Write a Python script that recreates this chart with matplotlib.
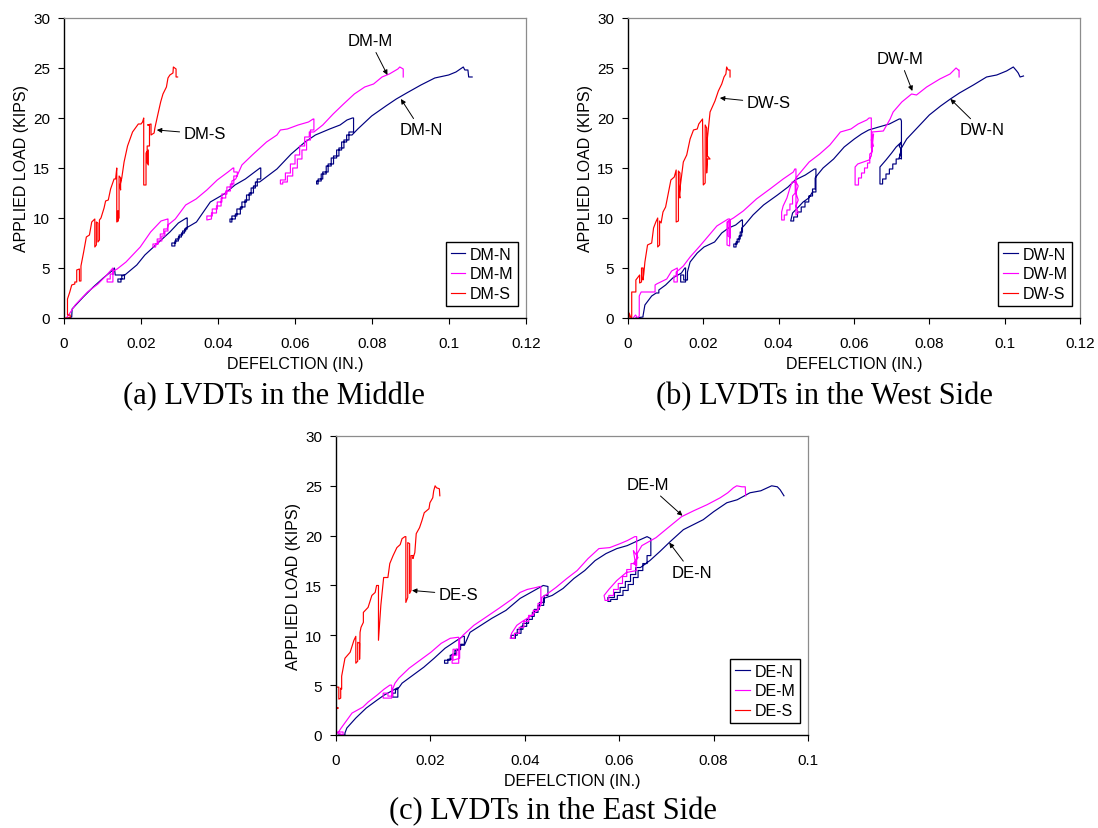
import matplotlib
matplotlib.use('Agg')
import matplotlib.pyplot as plt

# ---- data (deflection in., load kips) ----
DM_N = [(0.0011, 0.0), (0.0020, 0.1), (0.0021, 0.9), (0.0050, 2.1), (0.0076, 3.1), (0.0102, 4.0),
        (0.0124, 4.7), (0.0131, 5.0), (0.0133, 4.3), (0.0157, 4.3), (0.0157, 3.9), (0.0148, 3.9),
        (0.0148, 3.6), (0.0140, 3.6), (0.0140, 3.9), (0.0150, 3.9), (0.0150, 4.2), (0.0158, 4.3),
        (0.0189, 5.3), (0.0210, 6.3), (0.0241, 7.4), (0.0275, 8.6), (0.0297, 9.5), (0.0318, 10.0),
        (0.0320, 10.0), (0.0320, 8.9), (0.0313, 8.9), (0.0313, 8.5), (0.0305, 8.5), (0.0305, 8.1),
        (0.0297, 8.1), (0.0297, 7.7), (0.0288, 7.7), (0.0288, 7.2), (0.0280, 7.2), (0.0280, 7.5),
        (0.0290, 7.5), (0.0290, 7.9), (0.0299, 7.9), (0.0299, 8.3), (0.0308, 8.3), (0.0308, 8.7),
        (0.0316, 8.7), (0.0316, 9.0), (0.0322, 9.1), (0.0344, 9.6), (0.0380, 11.6), (0.0416, 12.4),
        (0.0444, 13.3), (0.0471, 13.9), (0.0509, 15.0), (0.0511, 15.0), (0.0511, 13.9), (0.0502, 13.9),
        (0.0502, 13.2), (0.0492, 13.2), (0.0492, 12.5), (0.0481, 12.5), (0.0481, 11.8), (0.0470, 11.8),
        (0.0470, 11.1), (0.0458, 11.1), (0.0458, 10.4), (0.0445, 10.4), (0.0445, 9.9), (0.0431, 9.9),
        (0.0431, 9.6), (0.0436, 9.6), (0.0436, 10.2), (0.0449, 10.2), (0.0449, 10.9), (0.0462, 10.9),
        (0.0462, 11.6), (0.0474, 11.6), (0.0474, 12.3), (0.0486, 12.3), (0.0486, 13.0), (0.0497, 13.0),
        (0.0497, 13.6), (0.0508, 13.6), (0.0515, 13.8), (0.0553, 14.9), (0.0590, 16.4), (0.0626, 17.6),
        (0.0653, 18.3), (0.0690, 18.9), (0.0717, 19.3), (0.0735, 19.8), (0.0749, 20.0), (0.0752, 20.0),
        (0.0752, 18.6), (0.0740, 18.6), (0.0740, 17.8), (0.0727, 17.8), (0.0727, 17.0), (0.0714, 17.0),
        (0.0714, 16.2), (0.0700, 16.2), (0.0700, 15.4), (0.0686, 15.4), (0.0686, 14.6), (0.0672, 14.6),
        (0.0672, 13.9), (0.0660, 13.9), (0.0660, 13.4), (0.0656, 13.4), (0.0656, 13.7), (0.0668, 13.7),
        (0.0668, 14.4), (0.0681, 14.4), (0.0681, 15.2), (0.0694, 15.2), (0.0694, 16.0), (0.0708, 16.0),
        (0.0708, 16.8), (0.0721, 16.8), (0.0721, 17.6), (0.0734, 17.6), (0.0734, 18.3), (0.0748, 18.3),
        (0.0763, 18.9), (0.0799, 20.2), (0.0836, 21.2), (0.0863, 21.9), (0.0890, 22.5), (0.0927, 23.3),
        (0.0963, 24.0), (0.0999, 24.3), (0.1018, 24.6), (0.1037, 25.1), (0.1041, 24.8), (0.1049, 24.8),
        (0.1051, 24.1), (0.1060, 24.1)]

DM_M = [(0.0006, 0.0), (0.0012, 0.3), (0.0029, 1.3), (0.0061, 2.6), (0.0088, 3.4), (0.0111, 4.3),
        (0.0125, 4.9), (0.0127, 5.0), (0.0127, 3.6), (0.0112, 3.6), (0.0112, 3.9), (0.0120, 3.9),
        (0.0120, 4.4), (0.0128, 4.4), (0.0128, 4.7), (0.0138, 4.9), (0.0161, 5.6), (0.0198, 7.1),
        (0.0225, 8.6), (0.0252, 9.7), (0.0269, 9.9), (0.0270, 9.9), (0.0270, 8.7), (0.0262, 8.7),
        (0.0262, 8.2), (0.0254, 8.2), (0.0254, 7.7), (0.0245, 7.7), (0.0245, 7.4), (0.0238, 7.4),
        (0.0238, 7.1), (0.0231, 7.1), (0.0231, 7.4), (0.0242, 7.4), (0.0242, 7.9), (0.0250, 7.9),
        (0.0250, 8.4), (0.0259, 8.4), (0.0259, 8.9), (0.0268, 8.9), (0.0270, 9.3), (0.0289, 9.9),
        (0.0316, 11.3), (0.0343, 11.9), (0.0371, 12.8), (0.0398, 13.8), (0.0426, 14.6), (0.0439, 15.0),
        (0.0441, 15.0), (0.0441, 14.6), (0.0450, 14.6), (0.0450, 14.2), (0.0441, 14.2), (0.0441, 13.4),
        (0.0432, 13.4), (0.0432, 12.7), (0.0420, 12.7), (0.0420, 12.0), (0.0408, 12.0), (0.0408, 11.2),
        (0.0396, 11.2), (0.0396, 10.5), (0.0383, 10.5), (0.0383, 9.9), (0.0371, 9.8), (0.0371, 10.2),
        (0.0385, 10.2), (0.0385, 10.9), (0.0398, 10.9), (0.0398, 11.6), (0.0410, 11.6), (0.0410, 12.4),
        (0.0423, 12.4), (0.0423, 13.1), (0.0436, 13.1), (0.0436, 13.7), (0.0446, 13.9), (0.0462, 15.3),
        (0.0489, 16.3), (0.0526, 17.6), (0.0553, 18.3), (0.0562, 18.8), (0.0580, 18.9), (0.0608, 19.3),
        (0.0635, 19.6), (0.0647, 19.9), (0.0649, 19.9), (0.0649, 18.8), (0.0640, 18.8), (0.0640, 17.8),
        (0.0630, 17.8), (0.0630, 16.8), (0.0618, 16.8), (0.0618, 15.9), (0.0606, 15.9), (0.0606, 15.0),
        (0.0594, 15.0), (0.0594, 14.2), (0.0580, 14.2), (0.0580, 13.6), (0.0568, 13.6), (0.0568, 13.4),
        (0.0562, 13.4), (0.0562, 13.8), (0.0575, 13.8), (0.0575, 14.5), (0.0588, 14.5), (0.0588, 15.4),
        (0.0600, 15.4), (0.0600, 16.3), (0.0612, 16.3), (0.0612, 17.2), (0.0625, 17.2), (0.0625, 18.1),
        (0.0637, 18.1), (0.0637, 18.6), (0.0649, 18.6), (0.0672, 19.3), (0.0699, 20.4), (0.0726, 21.4),
        (0.0754, 22.4), (0.0781, 23.1), (0.0804, 23.4), (0.0826, 24.1), (0.0845, 24.4), (0.0867, 24.9),
        (0.0872, 25.1), (0.0881, 24.9), (0.0881, 24.1)]

DM_S = [(0.0000, 0.0), (0.0016, 0.0), (0.0016, 0.3), (0.0009, 0.3), (0.0009, 1.9), (0.0015, 2.6),
        (0.0020, 3.3), (0.0028, 3.4), (0.0028, 3.6), (0.0033, 3.6), (0.0033, 4.8), (0.0040, 4.9),
        (0.0040, 3.7), (0.0044, 3.7), (0.0044, 5.2), (0.0051, 6.6), (0.0058, 8.1), (0.0066, 8.3),
        (0.0072, 9.6), (0.0080, 9.9), (0.0080, 7.1), (0.0084, 7.3), (0.0084, 9.6), (0.0088, 9.5),
        (0.0088, 7.6), (0.0092, 7.8), (0.0092, 9.8), (0.0096, 10.0), (0.0104, 11.0), (0.0108, 11.7),
        (0.0115, 11.8), (0.0121, 12.9), (0.0130, 13.9), (0.0134, 13.9), (0.0137, 15.0), (0.0137, 9.6),
        (0.0141, 9.7), (0.0141, 10.7), (0.0139, 10.7), (0.0139, 9.8), (0.0143, 10.0), (0.0143, 14.2),
        (0.0147, 14.0), (0.0147, 12.8), (0.0145, 13.2), (0.0150, 14.0), (0.0156, 15.6), (0.0165, 17.2),
        (0.0178, 18.6), (0.0193, 19.4), (0.0200, 19.4), (0.0204, 19.6), (0.0207, 20.0), (0.0207, 13.3),
        (0.0213, 13.3), (0.0213, 16.5), (0.0219, 16.8), (0.0219, 15.3), (0.0216, 15.5), (0.0216, 17.2),
        (0.0222, 17.2), (0.0222, 19.3), (0.0217, 19.3), (0.0226, 19.4), (0.0226, 18.3), (0.0234, 18.5),
        (0.0236, 19.0), (0.0244, 20.4), (0.0251, 21.6), (0.0257, 22.4), (0.0266, 23.1), (0.0270, 24.0),
        (0.0275, 24.3), (0.0283, 24.5), (0.0284, 25.1), (0.0291, 24.9), (0.0291, 24.1), (0.0295, 24.1)]

DW_N = [(0.0021, 0.0), (0.0040, 0.1), (0.0040, 0.2), (0.0045, 1.3), (0.0063, 2.2), (0.0075, 2.5),
        (0.0082, 2.5), (0.0082, 2.8), (0.0100, 3.3), (0.0119, 4.0), (0.0142, 4.5), (0.0151, 5.0),
        (0.0153, 5.0), (0.0153, 3.6), (0.0140, 3.6), (0.0140, 4.3), (0.0148, 4.3), (0.0148, 3.8),
        (0.0158, 3.8), (0.0158, 4.6), (0.0165, 5.6), (0.0184, 6.5), (0.0202, 7.1), (0.0230, 7.6),
        (0.0249, 8.5), (0.0267, 9.0), (0.0286, 9.3), (0.0302, 9.8), (0.0304, 9.8), (0.0304, 8.6),
        (0.0298, 8.6), (0.0298, 7.9), (0.0290, 7.9), (0.0290, 7.4), (0.0281, 7.4), (0.0281, 7.1),
        (0.0287, 7.1), (0.0287, 7.6), (0.0295, 7.6), (0.0295, 8.2), (0.0302, 8.2), (0.0302, 9.0),
        (0.0310, 9.3), (0.0332, 10.3), (0.0360, 11.3), (0.0397, 12.3), (0.0425, 13.1), (0.0444, 13.8),
        (0.0471, 14.3), (0.0495, 14.9), (0.0499, 14.9), (0.0499, 12.6), (0.0490, 12.6), (0.0480, 12.0),
        (0.0465, 11.6), (0.0450, 11.0), (0.0437, 10.5), (0.0432, 9.7), (0.0440, 9.7), (0.0440, 10.1),
        (0.0450, 10.1), (0.0450, 10.6), (0.0460, 10.6), (0.0460, 11.1), (0.0470, 11.1), (0.0470, 11.6),
        (0.0480, 11.6), (0.0480, 12.2), (0.0490, 12.2), (0.0490, 12.9), (0.0497, 12.9), (0.0497, 14.0),
        (0.0505, 14.4), (0.0518, 15.0), (0.0546, 15.9), (0.0574, 17.1), (0.0601, 17.9), (0.0620, 18.4),
        (0.0639, 18.8), (0.0666, 19.1), (0.0694, 19.4), (0.0720, 19.9), (0.0724, 19.9), (0.0726, 19.7),
        (0.0726, 15.9), (0.0720, 16.0), (0.0726, 16.8), (0.0720, 17.2), (0.0726, 17.6), (0.0712, 17.1),
        (0.0700, 16.5), (0.0685, 15.8), (0.0669, 15.1), (0.0669, 13.4), (0.0676, 13.4), (0.0676, 13.9),
        (0.0685, 13.9), (0.0685, 14.4), (0.0694, 14.4), (0.0694, 14.9), (0.0703, 14.9), (0.0703, 15.4),
        (0.0712, 15.4), (0.0712, 15.9), (0.0720, 15.9), (0.0726, 17.0), (0.0740, 17.9), (0.0770, 19.1),
        (0.0800, 20.3), (0.0830, 21.2), (0.0856, 21.9), (0.0880, 22.5), (0.0917, 23.3), (0.0952, 24.1),
        (0.0979, 24.3), (0.1005, 24.7), (0.1023, 25.1), (0.1032, 24.7), (0.1036, 24.5), (0.1041, 24.1),
        (0.1050, 24.2)]

DW_M = [(0.0014, 0.0), (0.0020, 0.3), (0.0026, 0.0), (0.0030, 0.2), (0.0030, 2.2), (0.0035, 2.6),
        (0.0072, 2.6), (0.0072, 3.3), (0.0076, 3.4), (0.0103, 3.9), (0.0116, 4.7), (0.0131, 5.0),
        (0.0131, 3.6), (0.0122, 3.6), (0.0122, 4.2), (0.0128, 4.2), (0.0128, 4.6), (0.0135, 4.8),
        (0.0147, 5.2), (0.0165, 6.1), (0.0191, 7.2), (0.0218, 8.4), (0.0236, 9.2), (0.0253, 9.6),
        (0.0266, 9.9), (0.0270, 9.9), (0.0270, 7.2), (0.0263, 7.3), (0.0263, 9.6), (0.0272, 9.7),
        (0.0272, 8.0), (0.0266, 8.2), (0.0266, 9.7), (0.0280, 10.0), (0.0306, 10.7), (0.0341, 11.9),
        (0.0377, 12.9), (0.0412, 13.9), (0.0439, 14.6), (0.0443, 14.9), (0.0446, 14.9), (0.0446, 10.3),
        (0.0452, 10.5), (0.0446, 11.2), (0.0452, 11.8), (0.0446, 12.5), (0.0452, 13.2), (0.0446, 13.6),
        (0.0436, 13.6), (0.0430, 13.0), (0.0422, 12.0), (0.0412, 11.2), (0.0408, 10.6), (0.0408, 9.8),
        (0.0415, 9.8), (0.0415, 10.3), (0.0422, 10.3), (0.0422, 10.8), (0.0430, 10.8), (0.0430, 11.4),
        (0.0437, 11.4), (0.0437, 12.2), (0.0444, 12.5), (0.0444, 13.8), (0.0450, 14.2), (0.0481, 15.6),
        (0.0509, 16.4), (0.0536, 17.3), (0.0564, 18.6), (0.0592, 18.9), (0.0611, 19.4), (0.0634, 19.8),
        (0.0640, 20.0), (0.0646, 20.0), (0.0646, 17.0), (0.0652, 17.2), (0.0646, 17.8), (0.0652, 18.4),
        (0.0646, 16.2), (0.0640, 15.8), (0.0625, 15.6), (0.0610, 15.4), (0.0603, 15.1), (0.0603, 13.3),
        (0.0612, 13.3), (0.0612, 14.0), (0.0620, 14.0), (0.0620, 14.5), (0.0628, 14.5), (0.0628, 15.0),
        (0.0636, 15.0), (0.0636, 15.5), (0.0642, 15.5), (0.0642, 16.4), (0.0648, 16.6), (0.0648, 18.6),
        (0.0678, 18.7), (0.0696, 19.9), (0.0704, 20.6), (0.0727, 21.6), (0.0753, 22.4), (0.0766, 22.3),
        (0.0793, 23.1), (0.0828, 23.9), (0.0855, 24.4), (0.0871, 25.0), (0.0877, 24.8), (0.0879, 24.8),
        (0.0879, 24.1)]

DW_S = [(0.0003, 0.0), (0.0003, 0.5), (0.0008, 0.0), (0.0010, 0.0), (0.0010, 2.6), (0.0021, 2.6),
        (0.0021, 3.8), (0.0031, 4.3), (0.0031, 3.5), (0.0036, 3.6), (0.0036, 5.0), (0.0040, 5.0),
        (0.0040, 3.8), (0.0042, 4.4), (0.0045, 5.6), (0.0052, 7.3), (0.0063, 7.5), (0.0068, 9.0),
        (0.0074, 9.6), (0.0079, 10.0), (0.0079, 7.1), (0.0084, 7.3), (0.0084, 9.7), (0.0088, 9.5),
        (0.0093, 10.6), (0.0100, 11.1), (0.0114, 13.8), (0.0123, 14.1), (0.0128, 14.8), (0.0128, 9.6),
        (0.0134, 9.7), (0.0134, 14.7), (0.0138, 14.5), (0.0138, 12.0), (0.0136, 12.3), (0.0140, 13.5),
        (0.0147, 15.6), (0.0156, 16.3), (0.0165, 17.9), (0.0174, 18.8), (0.0184, 18.9), (0.0188, 19.4),
        (0.0198, 19.9), (0.0200, 13.3), (0.0205, 13.5), (0.0205, 19.3), (0.0209, 19.0), (0.0209, 14.5),
        (0.0211, 15.9), (0.0218, 15.9), (0.0211, 16.2), (0.0211, 18.0), (0.0218, 20.6), (0.0231, 21.7),
        (0.0240, 22.7), (0.0249, 23.4), (0.0255, 24.1), (0.0260, 24.4), (0.0262, 25.1), (0.0266, 24.8),
        (0.0271, 24.8), (0.0271, 24.1)]

DE_N = [(0.0005, 0.0), (0.0019, 0.0), (0.0019, 0.2), (0.0023, 0.7), (0.0042, 1.7), (0.0064, 2.7),
        (0.0087, 3.5), (0.0102, 4.0), (0.0121, 4.5), (0.0129, 4.7), (0.0131, 4.7), (0.0131, 3.8),
        (0.0120, 3.8), (0.0120, 4.2), (0.0126, 4.2), (0.0126, 4.5), (0.0134, 4.8), (0.0140, 5.2),
        (0.0163, 6.0), (0.0186, 6.8), (0.0208, 7.7), (0.0231, 8.7), (0.0250, 9.3), (0.0269, 9.9),
        (0.0272, 9.9), (0.0272, 9.1), (0.0264, 9.1), (0.0264, 8.6), (0.0255, 8.6), (0.0255, 8.1),
        (0.0246, 8.1), (0.0246, 7.6), (0.0237, 7.6), (0.0237, 7.2), (0.0230, 7.2), (0.0230, 7.5),
        (0.0242, 7.5), (0.0242, 8.0), (0.0252, 8.0), (0.0252, 8.5), (0.0262, 8.5), (0.0262, 9.0),
        (0.0272, 9.0), (0.0284, 10.3), (0.0307, 11.0), (0.0330, 11.7), (0.0360, 12.5), (0.0390, 13.7),
        (0.0420, 14.5), (0.0439, 15.0), (0.0449, 14.9), (0.0449, 14.0), (0.0441, 14.0), (0.0441, 13.3),
        (0.0431, 13.3), (0.0431, 12.6), (0.0420, 12.6), (0.0420, 11.9), (0.0408, 11.9), (0.0408, 11.2),
        (0.0396, 11.2), (0.0396, 10.6), (0.0384, 10.6), (0.0384, 10.0), (0.0371, 10.0), (0.0371, 9.7),
        (0.0380, 9.7), (0.0380, 10.2), (0.0392, 10.2), (0.0392, 10.9), (0.0404, 10.9), (0.0404, 11.6),
        (0.0416, 11.6), (0.0416, 12.3), (0.0428, 12.3), (0.0428, 13.0), (0.0440, 13.0), (0.0440, 13.7),
        (0.0458, 14.0), (0.0481, 14.7), (0.0504, 15.7), (0.0527, 16.5), (0.0549, 17.5), (0.0572, 18.2),
        (0.0595, 18.7), (0.0617, 19.0), (0.0640, 19.5), (0.0659, 19.9), (0.0667, 19.7), (0.0667, 18.0),
        (0.0659, 18.0), (0.0659, 17.2), (0.0650, 17.2), (0.0650, 16.5), (0.0640, 16.5), (0.0640, 15.8),
        (0.0630, 15.8), (0.0630, 15.1), (0.0619, 15.1), (0.0619, 14.5), (0.0608, 14.5), (0.0608, 14.0),
        (0.0596, 14.0), (0.0596, 13.6), (0.0582, 13.6), (0.0582, 13.4), (0.0576, 13.4), (0.0576, 13.8),
        (0.0590, 13.8), (0.0590, 14.3), (0.0602, 14.3), (0.0602, 14.8), (0.0613, 14.8), (0.0613, 15.4),
        (0.0624, 15.4), (0.0624, 16.1), (0.0635, 16.1), (0.0635, 16.8), (0.0645, 16.8), (0.0665, 17.5),
        (0.0686, 18.4), (0.0708, 19.4), (0.0736, 20.6), (0.0778, 21.6), (0.0800, 22.4), (0.0828, 23.3),
        (0.0850, 23.6), (0.0877, 24.3), (0.0900, 24.5), (0.0923, 25.0), (0.0935, 24.9), (0.0941, 24.6),
        (0.0949, 24.0)]

DE_M = [(0.0000, 0.0), (0.0003, 0.3), (0.0015, 0.3), (0.0015, 0.0), (0.0004, 0.2), (0.0011, 0.7),
        (0.0034, 2.2), (0.0057, 2.8), (0.0068, 3.3), (0.0087, 4.0), (0.0102, 4.6), (0.0114, 5.0),
        (0.0118, 5.0), (0.0118, 3.7), (0.0100, 3.7), (0.0100, 4.2), (0.0110, 4.2), (0.0110, 3.9),
        (0.0120, 3.9), (0.0120, 4.6), (0.0125, 5.2), (0.0133, 5.7), (0.0155, 6.7), (0.0178, 7.5),
        (0.0201, 8.3), (0.0223, 9.2), (0.0242, 9.7), (0.0258, 9.8), (0.0260, 9.8), (0.0260, 7.2),
        (0.0246, 7.2), (0.0246, 8.0), (0.0256, 8.0), (0.0256, 8.6), (0.0248, 8.6), (0.0248, 7.5),
        (0.0262, 7.7), (0.0262, 9.6), (0.0269, 10.0), (0.0292, 11.0), (0.0314, 11.7), (0.0345, 12.7),
        (0.0375, 13.7), (0.0390, 14.3), (0.0405, 14.6), (0.0424, 14.8), (0.0432, 14.9), (0.0434, 14.9),
        (0.0434, 13.0), (0.0426, 12.5), (0.0415, 12.0), (0.0395, 11.4), (0.0383, 11.0), (0.0372, 10.2),
        (0.0369, 9.7), (0.0378, 9.7), (0.0378, 10.2), (0.0388, 10.2), (0.0388, 10.8), (0.0398, 10.8),
        (0.0398, 11.4), (0.0408, 11.4), (0.0408, 12.0), (0.0418, 12.0), (0.0418, 12.5), (0.0428, 12.5),
        (0.0428, 13.2), (0.0436, 13.2), (0.0436, 13.8), (0.0443, 14.0), (0.0466, 14.8), (0.0489, 15.7),
        (0.0511, 16.5), (0.0534, 17.7), (0.0557, 18.7), (0.0580, 18.8), (0.0602, 19.2), (0.0617, 19.5),
        (0.0633, 19.9), (0.0637, 19.9), (0.0637, 17.0), (0.0630, 17.2), (0.0640, 17.8), (0.0630, 18.5),
        (0.0637, 16.5), (0.0615, 16.3), (0.0595, 15.5), (0.0578, 14.6), (0.0568, 14.0), (0.0570, 13.5),
        (0.0578, 13.5), (0.0578, 14.0), (0.0588, 14.0), (0.0588, 14.6), (0.0598, 14.6), (0.0598, 15.2),
        (0.0607, 15.2), (0.0607, 15.9), (0.0616, 15.9), (0.0616, 16.6), (0.0625, 16.6), (0.0625, 17.2),
        (0.0635, 17.2), (0.0638, 18.2), (0.0648, 19.0), (0.0678, 19.8), (0.0701, 20.7), (0.0732, 21.9),
        (0.0758, 22.5), (0.0786, 23.1), (0.0814, 23.8), (0.0830, 24.3), (0.0842, 24.8), (0.0849, 25.0),
        (0.0860, 24.9), (0.0867, 24.9), (0.0868, 24.0)]

DE_S = [(0.0000, 0.0), (0.0000, 2.7), (0.0005, 2.7), (0.0000, 2.8), (0.0000, 4.8), (0.0006, 4.8),
        (0.0006, 3.6), (0.0010, 3.7), (0.0010, 4.7), (0.0012, 4.6), (0.0012, 5.9), (0.0019, 7.7),
        (0.0030, 8.3), (0.0038, 9.5), (0.0042, 9.9), (0.0042, 7.2), (0.0046, 7.4), (0.0046, 9.3),
        (0.0050, 9.2), (0.0050, 7.6), (0.0051, 10.3), (0.0053, 10.8), (0.0058, 11.3), (0.0058, 12.3),
        (0.0068, 12.8), (0.0076, 14.0), (0.0083, 14.3), (0.0086, 15.0), (0.0090, 15.0), (0.0090, 9.5),
        (0.0095, 13.0), (0.0101, 15.8), (0.0110, 15.8), (0.0114, 17.2), (0.0121, 18.0), (0.0129, 18.8),
        (0.0136, 19.1), (0.0140, 19.7), (0.0146, 19.9), (0.0148, 19.9), (0.0148, 13.3), (0.0152, 13.8),
        (0.0152, 19.3), (0.0156, 19.2), (0.0156, 14.2), (0.0159, 14.5), (0.0159, 18.0), (0.0163, 18.0),
        (0.0163, 17.7), (0.0167, 18.3), (0.0170, 20.2), (0.0177, 20.8), (0.0182, 21.5), (0.0187, 22.3),
        (0.0197, 22.7), (0.0199, 23.3), (0.0205, 23.8), (0.0207, 24.5), (0.0210, 25.0), (0.0213, 24.8),
        (0.0219, 24.7), (0.0220, 24.0)]

x_ticks_ab = [0, 0.02, 0.04, 0.06, 0.08, 0.1, 0.12]
x_labels_ab = ['0', '0.02', '0.04', '0.06', '0.08', '0.1', '0.12']
x_ticks_c = [0, 0.02, 0.04, 0.06, 0.08, 0.1]
x_labels_c = ['0', '0.02', '0.04', '0.06', '0.08', '0.1']
y_ticks = [0, 5, 10, 15, 20, 25, 30]

NAVY, MAGENTA, RED = '#000080', '#FF00FF', '#FF0000'
SANS = 'Liberation Sans'

fig = plt.figure(figsize=(10.98, 8.29), dpi=100)


def panel(rect, series, names, xticks, xlabels, notes):
    ax = fig.add_axes(rect)
    for data, name, col in zip(series, names, [NAVY, MAGENTA, RED]):
        xs, ys = zip(*data)
        ax.plot(xs, ys, color=col, lw=0.85, label=name)
    ax.set_xlim(xticks[0], xticks[-1])
    ax.set_ylim(0, 30)
    ax.set_xticks(xticks)
    ax.set_xticklabels(xlabels, family=SANS, fontsize=11)
    ax.set_yticks(y_ticks)
    ax.set_yticklabels([str(v) for v in y_ticks], family=SANS, fontsize=11)
    ax.tick_params(axis='x', direction='out', length=4, width=0.8, pad=9)
    ax.tick_params(axis='y', direction='out', length=4, width=0.8, pad=6)
    for s in ['top', 'right']:
        ax.spines[s].set_color('#8c8c8c')
        ax.spines[s].set_linewidth(0.9)
    for s in ['left', 'bottom']:
        ax.spines[s].set_color('black')
        ax.spines[s].set_linewidth(1.0)
    ax.set_xlabel('DEFELCTION (IN.)', family=SANS, fontsize=11.5, labelpad=4)
    ax.set_ylabel('APPLIED LOAD (KIPS)', family=SANS, fontsize=11.5, labelpad=3)
    leg = ax.legend(loc='lower right', bbox_to_anchor=(0.983, 0.04), borderaxespad=0,
                    fancybox=False, framealpha=1, edgecolor='black',
                    prop={'family': SANS, 'size': 11.5}, handlelength=0.9,
                    handletextpad=0.3, labelspacing=0.3, borderpad=0.3)
    leg.get_frame().set_linewidth(1.0)
    for text, txy, pxy in notes:
        ax.annotate(text, xy=pxy, xytext=txy, ha='center', va='center',
                    family=SANS, fontsize=12,
                    arrowprops=dict(arrowstyle='-|>', color='black', lw=0.7,
                                    mutation_scale=7, shrinkA=1, shrinkB=0))
    return ax


panel([0.0583, 0.6152, 0.4208, 0.3619], [DM_N, DM_M, DM_S], ['DM-N', 'DM-M', 'DM-S'],
      x_ticks_ab, x_labels_ab,
      [('DM-M', (0.0795, 27.7), (0.0840, 24.3)),
       ('DM-N', (0.0927, 18.8), (0.0875, 21.9)),
       ('DM-S', (0.0366, 18.4), (0.0241, 18.8))])

panel([0.5719, 0.6152, 0.4117, 0.3619], [DW_N, DW_M, DW_S], ['DW-N', 'DW-M', 'DW-S'],
      x_ticks_ab, x_labels_ab,
      [('DW-M', (0.0722, 25.9), (0.0755, 22.7)),
       ('DW-N', (0.0940, 18.8), (0.0856, 21.9)),
       ('DW-S', (0.0374, 21.5), (0.0244, 22.0))])

panel([0.3060, 0.1122, 0.4299, 0.3607], [DE_N, DE_M, DE_S], ['DE-N', 'DE-M', 'DE-S'],
      x_ticks_c, x_labels_c,
      [('DE-M', (0.0661, 25.1), (0.0734, 22.0)),
       ('DE-N', (0.0754, 16.3), (0.0706, 19.3)),
       ('DE-S', (0.0260, 14.1), (0.0161, 14.5))])

SERIF = 'Liberation Serif'
fig.text(274 / 1098, 1 - 397 / 829, '(a) LVDTs in the Middle', family=SERIF, fontsize=22,
         ha='center', va='center')
fig.text(824 / 1098, 1 - 397 / 829, '(b) LVDTs in the West Side', family=SERIF, fontsize=22,
         ha='center', va='center')
fig.text(553 / 1098, 1 - 812 / 829, '(c) LVDTs in the East Side', family=SERIF, fontsize=22,
         ha='center', va='center')

fig.savefig('out.png', dpi=100)
